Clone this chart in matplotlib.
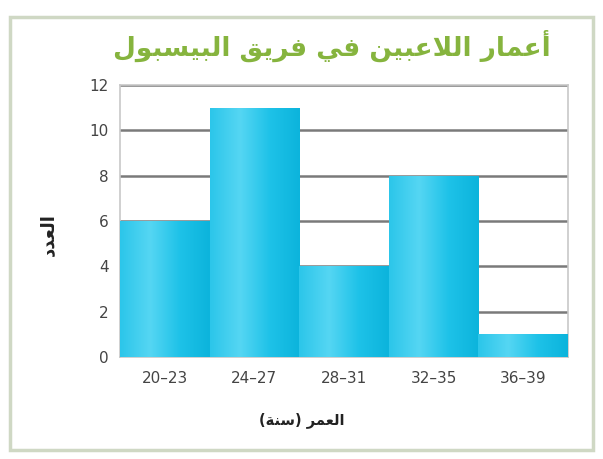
import numpy as np
import matplotlib
matplotlib.use("Agg")
import matplotlib.pyplot as plt
from matplotlib.patches import Rectangle
from matplotlib.colors import LinearSegmentedColormap

# ---- data ----
categories = ["20–23", "24–27", "28–31", "32–35", "36–39"]
counts = [6, 11, 4, 8, 1]
y_ticks = [0, 2, 4, 6, 8, 10, 12]
title_text = "أعمار اللاعبين في فريق البيسبول"
xlabel_text = "العمر (سنة)"
ylabel_text = "العدد"

# ---- minimal Arabic shaping (contextual forms + RTL visual order) ----
FORMS = {  # iso, fin, ini, med
    "\u0627": ("\uFE8D", "\uFE8E", None, None),
    "\u0623": ("\uFE83", "\uFE84", None, None),
    "\u0628": ("\uFE8F", "\uFE90", "\uFE91", "\uFE92"),
    "\u0629": ("\uFE93", "\uFE94", None, None),
    "\u062F": ("\uFEA9", "\uFEAA", None, None),
    "\u0631": ("\uFEAD", "\uFEAE", None, None),
    "\u0633": ("\uFEB1", "\uFEB2", "\uFEB3", "\uFEB4"),
    "\u0639": ("\uFEC9", "\uFECA", "\uFECB", "\uFECC"),
    "\u0641": ("\uFED1", "\uFED2", "\uFED3", "\uFED4"),
    "\u0642": ("\uFED5", "\uFED6", "\uFED7", "\uFED8"),
    "\u0644": ("\uFEDD", "\uFEDE", "\uFEDF", "\uFEE0"),
    "\u0645": ("\uFEE1", "\uFEE2", "\uFEE3", "\uFEE4"),
    "\u0646": ("\uFEE5", "\uFEE6", "\uFEE7", "\uFEE8"),
    "\u0648": ("\uFEED", "\uFEEE", None, None),
    "\u064A": ("\uFEF1", "\uFEF2", "\uFEF3", "\uFEF4"),
}
LAM_ALEF = {"\u0627": ("\uFEFB", "\uFEFC"), "\u0623": ("\uFEF7", "\uFEF8")}


def dual(c):
    return c in FORMS and FORMS[c][2] is not None


def shape_ar(text):
    units = []
    i = 0
    while i < len(text):
        c = text[i]
        if c == "\u0644" and i + 1 < len(text) and text[i + 1] in LAM_ALEF:
            units.append(("LA", text[i + 1]))
            i += 2
        else:
            units.append(("C", c))
            i += 1
    out = []
    for k, (kind, c) in enumerate(units):
        prev = units[k - 1] if k > 0 else None
        nxt = units[k + 1] if k + 1 < len(units) else None
        prev_joins = prev is not None and prev[0] == "C" and dual(prev[1])
        if kind == "LA":
            out.append(LAM_ALEF[c][1] if prev_joins else LAM_ALEF[c][0])
            continue
        if c not in FORMS:
            out.append(c)
            continue
        nxt_joins = (dual(c) and nxt is not None and
                     (nxt[0] == "LA" or nxt[1] in FORMS))
        iso, fin, ini, med = FORMS[c]
        if prev_joins and nxt_joins:
            out.append(med)
        elif prev_joins:
            out.append(fin)
        elif nxt_joins:
            out.append(ini)
        else:
            out.append(iso)
    vis = "".join(out)[::-1]
    return vis.translate(str.maketrans("()", ")("))


fig = plt.figure(figsize=(6.03, 4.59), dpi=100)
fig.patch.set_facecolor("white")
fig.patches.append(Rectangle((10 / 603, 1 - 450 / 459), 583 / 603, 433 / 459,
                             transform=fig.transFigure, fill=False,
                             edgecolor="#cfd8c4", linewidth=2.5))

ax = fig.add_axes([120 / 603, 1 - 357 / 459, 448 / 603, 272 / 459])
x = np.arange(len(categories))
bars = ax.bar(x, counts, width=1.0, color="#1ec4e8", edgecolor="none", zorder=2)

cmap = LinearSegmentedColormap.from_list("cy", ["#2cc6ea", "#55d6f3", "#1ec2e8", "#0cb4dc"])
grad = np.linspace(0, 1, 100).reshape(1, -1)
for b in bars:
    im = ax.imshow(grad, cmap=cmap, aspect="auto", zorder=3,
                   extent=(b.get_x(), b.get_x() + b.get_width(), 0, b.get_height()))
    im.set_clip_path(b)

ax.set_xlim(-0.5, len(categories) - 0.5)
ax.set_ylim(0, 12)
ax.set_yticks(y_ticks)
ax.set_xticks(x)
ax.set_xticklabels(categories)
ax.yaxis.grid(True, color="#7a7a7a", linewidth=1.8, zorder=1)
ax.set_axisbelow(True)
for s in ax.spines.values():
    s.set_color("#c8c8c8")
    s.set_linewidth(1.2)
ax.tick_params(axis="both", length=0, labelsize=11, labelcolor="#444444")
ax.tick_params(axis="x", pad=10)
ax.tick_params(axis="y", pad=8)

fig.text(0.55, 1 - 46 / 459, shape_ar(title_text), ha="center", va="center",
         fontsize=19, fontweight="bold", color="#86b43e", family="DejaVu Sans")
fig.text(0.5, 1 - 420 / 459, shape_ar(xlabel_text), ha="center", va="center",
         fontsize=10.5, fontweight="bold", color="#222222", family="DejaVu Sans")
fig.text(48 / 603, 1 - 235 / 459, shape_ar(ylabel_text), ha="center", va="center",
         rotation=90, fontsize=13, fontweight="bold", color="#222222",
         family="DejaVu Sans")

fig.savefig("out.png", dpi=100)
